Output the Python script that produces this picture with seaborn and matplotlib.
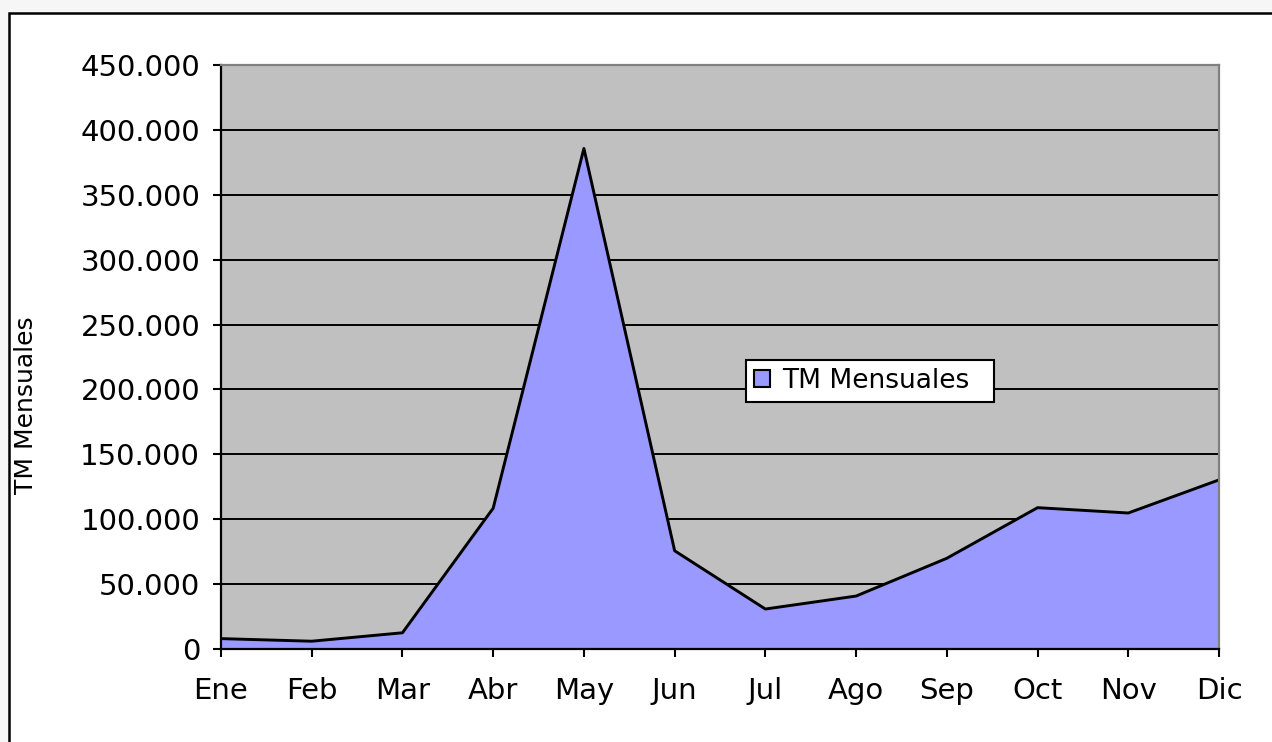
import numpy as np
import pandas as pd
import seaborn as sns
import matplotlib.pyplot as plt
from matplotlib.patches import Patch, Rectangle
from matplotlib.ticker import FuncFormatter, MultipleLocator

# Datos (TM mensuales)
meses = ["Ene", "Feb", "Mar", "Abr", "May", "Jun", "Jul", "Ago", "Sep", "Oct", "Nov", "Dic"]
tm_mensuales = [8000, 6000, 12500, 108500, 385700, 75700, 30800, 40800, 69900, 108900, 104800, 130300]

df = pd.DataFrame({"mes": meses, "tm": tm_mensuales})

sns.set_style("white")
plt.rcParams["font.family"] = ["DejaVu Sans"]
plt.rcParams["text.color"] = "black"
plt.rcParams["axes.labelcolor"] = "black"
plt.rcParams["xtick.color"] = "black"
plt.rcParams["ytick.color"] = "black"

fig = plt.figure(figsize=(12.72, 7.42), dpi=100, facecolor="#f6f6f6")
# marco exterior del grafico (cortado a la derecha y abajo)
fig.patches.append(Rectangle((9 / 1272, -0.1), 1.2, 1 - 13 / 742 + 0.1,
                             transform=fig.transFigure, facecolor="white",
                             edgecolor="black", linewidth=1.8, zorder=-10))
ax = fig.add_axes([221 / 1272, 1 - 649 / 742, 998 / 1272, 584 / 742])
ax.set_zorder(1)
ax.set_facecolor("#C0C0C0")

x = np.arange(len(meses))
ax.fill_between(x, df["tm"], color="#9999FF", zorder=2)
sns.lineplot(x=x, y=df["tm"], ax=ax, color="black", linewidth=2.1, zorder=3)

ax.set_xlim(0, len(meses) - 1)
ax.set_ylim(0, 450000)
ax.yaxis.set_major_locator(MultipleLocator(50000))
ax.yaxis.set_major_formatter(FuncFormatter(lambda v, p: f"{v:,.0f}".replace(",", ".")))
ax.set_xticks(x)
ax.set_xticklabels(meses)

ax.grid(axis="y", color="black", linewidth=1.4, zorder=1)
ax.set_axisbelow(True)

for side in ["left", "bottom"]:
    ax.spines[side].set_color("black")
    ax.spines[side].set_linewidth(1.6)
for side in ["top", "right"]:
    ax.spines[side].set_color("#808080")
    ax.spines[side].set_linewidth(1.6)
for sp in ax.spines.values():
    sp.set_zorder(4)

ax.tick_params(axis="both", direction="out", length=6, width=1.5, color="black",
               labelsize=21, labelcolor="black", left=True, bottom=True)
ax.tick_params(axis="y", pad=9)
ax.tick_params(axis="x", pad=14)

ax.set_xlabel("")
ax.set_ylabel("TM Mensuales", fontsize=18, color="black")
ax.yaxis.set_label_coords(-0.183, 0.418)

handle = Patch(facecolor="#9999FF", edgecolor="black", linewidth=1.5, label="TM Mensuales  ")
leg = ax.legend(handles=[handle], loc="center", bbox_to_anchor=(0.65, 0.459),
                fontsize=19, frameon=True, fancybox=False, framealpha=1,
                edgecolor="black", handlelength=0.62, handleheight=0.62,
                handletextpad=0.45, borderpad=0.3, borderaxespad=0)
leg.get_frame().set_linewidth(1.5)
leg.set_zorder(5)

fig.savefig("out.png", dpi=100, facecolor=fig.get_facecolor())
